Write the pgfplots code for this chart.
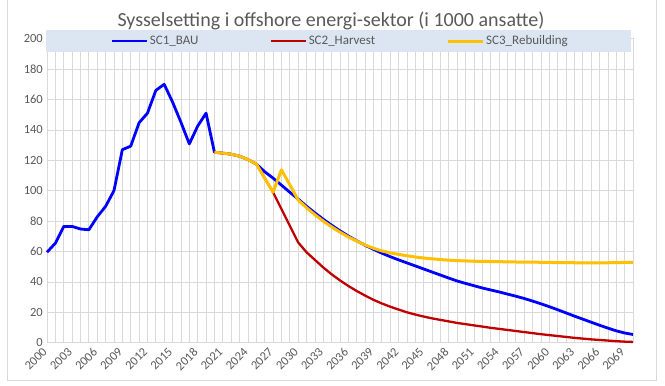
\documentclass[border=0pt]{standalone}
\usepackage{fontspec}
\setmainfont{Carlito}
\usepackage{pgfplots}
\pgfplotsset{compat=1.18}
\usepackage{pgfplotstable}
\definecolor{gridc}{HTML}{D9D9D9}
\definecolor{txtc}{HTML}{595959}
\definecolor{legbg}{HTML}{DCE6F2}
\definecolor{cblue}{HTML}{0000FF}
\definecolor{cred}{HTML}{C00000}
\definecolor{cyel}{HTML}{FFC000}

\pgfplotstableread{
year bau harv reb
2000 59.5 nan nan
2001 65.5 nan nan
2002 76.5 nan nan
2003 76.5 nan nan
2004 74.8 nan nan
2005 74.3 nan nan
2006 82.8 nan nan
2007 89.7 nan nan
2008 100 nan nan
2009 127 nan nan
2010 129.3 nan nan
2011 144.7 nan nan
2012 151 nan nan
2013 166 nan nan
2014 170 nan nan
2015 158.3 nan nan
2016 145 nan nan
2017 130.8 nan nan
2018 142.5 nan nan
2019 151 nan nan
2020 125.3 125.3 125.3
2021 124.7 124.7 124.7
2022 124.0 124.0 124.0
2023 122.7 122.7 122.7
2024 120.5 120.5 120.5
2025 117.6 117.6 117.6
2026 112.5 108.3 108.3
2027 108.3 99 99
2028 103.7 88 113.7
2029 99 77 104
2030 94.5 66 93.9
2031 89.8 59.5 88.8
2032 85.4 54.5 84.2
2033 81.2 49.5 80
2034 77.3 45 76.2
2035 73.6 41 72.7
2036 70.2 37.3 69.6
2037 67 34 66.8
2038 64.1 31 64.3
2039 61.4 28.2 62.1
2040 58.9 25.8 60.4
2041 56.6 23.7 59.1
2042 54.5 21.8 58.1
2043 52.5 20 57.2
2044 50.5 18.5 56.4
2045 48.5 17.2 55.7
2046 46.5 16 55.2
2047 44.5 15 54.7
2048 42.5 14 54.3
2049 40.6 13 54
2050 39 12.2 53.8
2051 37.5 11.4 53.6
2052 36 10.6 53.5
2053 34.7 9.8 53.4
2054 33.4 9.1 53.3
2055 32 8.4 53.2
2056 30.6 7.7 53.1
2057 29.1 7 53
2058 27.4 6.3 53
2059 25.6 5.6 52.9
2060 23.7 5 52.8
2061 21.7 4.4 52.7
2062 19.6 3.8 52.7
2063 17.5 3.2 52.6
2064 15.5 2.7 52.6
2065 13.5 2.2 52.6
2066 11.5 1.8 52.6
2067 9.6 1.4 52.6
2068 7.8 1.0 52.7
2069 6.4 0.7 52.8
2070 5.4 0.5 52.8
}\data

\begin{document}
\begin{tikzpicture}
\path[use as bounding box] (0bp,0bp) rectangle (665bp,-386bp);
\draw[gridc, line width=1bp] (7bp,3bp) rectangle (656.5bp,-380bp);
\node[anchor=base, text=txtc, inner sep=0pt, font=\fontsize{20bp}{22bp}\selectfont] at (331bp,-26.7bp) {Sysselsetting i offshore energi-sektor (i 1000 ansatte)};
\begin{axis}[
  at={(47bp,-342.7bp)}, anchor=south west,
  scale only axis, width=586bp, height=304bp,
  xmin=2000, xmax=2070, ymin=0, ymax=200,
  clip=false,
  unbounded coords=jump,
  axis line style={gridc, line width=0.75bp},
  major tick length=0pt, minor tick length=0pt,
  xtick={2000,2003,...,2069},
  minor xtick={2000,2001,...,2070},
  ytick={0,20,...,200},
  grid=both,
  major grid style={gridc, line width=0.75bp},
  minor grid style={gridc, line width=0.75bp},
  /pgf/number format/assume math mode=true,
  tick label style={font=\fontsize{12.5bp}{14bp}\selectfont, text=txtc},
  x tick label style={/pgf/number format/1000 sep={}, rotate=45, anchor=east, inner sep=0pt, xshift=-6.6bp, yshift=-3.7bp},
  y tick label style={anchor=east, inner sep=0pt, xshift=-4bp},
  legend columns=3,
  legend style={at={(0.5,1)}, anchor=center, yshift=-2.3bp, draw=none, fill=none,
    font=\fontsize{13bp}{15bp}\selectfont, text=txtc, inner sep=0pt,
    nodes={inner sep=1.5bp},
    /tikz/every even column/.append style={column sep=70bp}},
  legend cell align=left,
  legend image code/.code={\draw[#1] (0bp,0bp) -- (35bp,0bp);},
]
\fill[legbg] (rel axis cs:-0.0017,0.956) rectangle (rel axis cs:0.9966,1.0286);
\addplot[cblue, line width=2.8bp, line join=round] table[x=year, y=bau] {\data};
\addlegendentry{SC1\_BAU}
\addplot[cred, line width=2.3bp, line join=round] table[x=year, y=harv] {\data};
\addlegendentry{SC2\_Harvest}
\addplot[cyel, line width=3bp, line join=round] table[x=year, y=reb] {\data};
\addlegendentry{SC3\_Rebuilding}
\end{axis}
\end{tikzpicture}
\end{document}
